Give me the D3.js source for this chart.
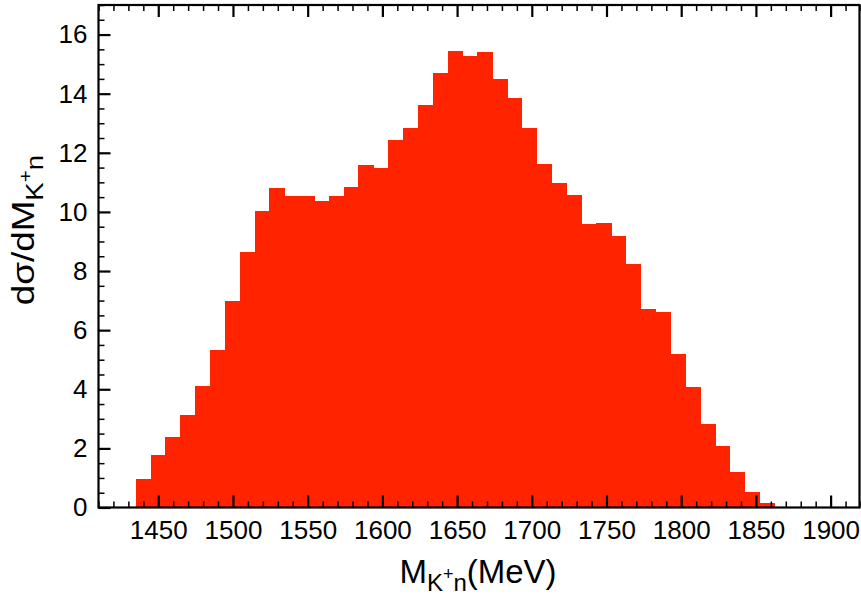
<!DOCTYPE html>
<html>
<head>
<meta charset="utf-8">
<script src="https://cdn.jsdelivr.net/npm/d3@7"></script>
<style>
    body { margin: 0; background: #fff; }
    svg { display: block; font-family: "Liberation Sans", Arial, Helvetica, sans-serif; }
    .plotAxis path { display: none; }
    .plotAxis line { stroke: #000; }
    .plotAxis text { fill: #000; }
</style>
</head>
<body>
<svg id="histPlot" width="861" height="596"></svg>
<script>
"use strict";

const width = 861;
const height = 596;
const plotBox = { "left": 98.5, "right": 860.5, "top": 5, "bottom": 507.5 };

// histogram: lower edge of first bin and bin width (MeV), heights per bin
const binStart = 1434.9;
const binWidth = 9.94;
const binHeights = [
    0.96, 1.76, 2.38, 3.14, 4.10, 5.34, 6.98, 8.66, 10.03, 10.82,
    10.54, 10.54, 10.38, 10.55, 10.85, 11.59, 11.47, 12.42, 12.85, 13.62,
    14.70, 15.46, 15.29, 15.42, 14.49, 13.85, 12.85, 11.61, 10.98, 10.56,
    9.58, 9.62, 9.20, 8.25, 6.72, 6.60, 5.19, 4.08, 2.81, 2.08,
    1.19, 0.52, 0.14
];

const xDomain = [1410, 1920];
const yDomain = [0, 17];
const xMajorTicks = [1450, 1500, 1550, 1600, 1650, 1700, 1750, 1800, 1850, 1900];
const yMajorTicks = [0, 2, 4, 6, 8, 10, 12, 14, 16];
const xMinorStep = 10;
const yMinorStep = 0.5;

const barColor = "#ff2300";

let xScale = d3.scaleLinear().domain(xDomain).range([plotBox.left, plotBox.right]);
let yScale = d3.scaleLinear().domain(yDomain).range([plotBox.bottom, plotBox.top]);

let svg = d3.select("svg#histPlot");

// bars
svg.append("g")
    .attr("id", "bars")
    .attr("shape-rendering", "crispEdges")
    .selectAll("rect")
    .data(binHeights)
    .enter()
    .append("rect")
    .attr("x", (d, i) => xScale(binStart + i * binWidth))
    .attr("width", (d, i) => xScale(binStart + (i + 1) * binWidth) - xScale(binStart + i * binWidth) + 0.6)
    .attr("y", d => yScale(d))
    .attr("height", d => yScale(0) - yScale(d))
    .attr("fill", barColor);

// minor tick values
let xMinor = d3.range(xDomain[0], xDomain[1] + 0.01, xMinorStep).filter(v => v % 50 !== 0);
let yMinor = d3.range(yDomain[0], yDomain[1] + 0.01, yMinorStep).filter(v => v % 2 !== 0);

function drawAxes() {
    // bottom
    let bottomMajor = svg.append("g")
        .attr("class", "plotAxis")
        .attr("transform", `translate(0,${plotBox.bottom})`)
        .call(d3.axisBottom(xScale).tickValues(xMajorTicks).tickSize(-12).tickPadding(13).tickFormat(d3.format("d")));
    bottomMajor.selectAll("line").attr("stroke-width", 2.2);
    bottomMajor.selectAll("text").attr("font-size", 26).attr("font-family", "inherit");

    svg.append("g")
        .attr("class", "plotAxis")
        .attr("transform", `translate(0,${plotBox.bottom})`)
        .call(d3.axisBottom(xScale).tickValues(xMinor).tickSize(-6).tickFormat(""))
        .selectAll("line").attr("stroke-width", 1.5);

    // top
    svg.append("g")
        .attr("class", "plotAxis")
        .attr("transform", `translate(0,${plotBox.top})`)
        .call(d3.axisTop(xScale).tickValues(xMajorTicks).tickSize(-12).tickFormat(""))
        .selectAll("line").attr("stroke-width", 2.2);
    svg.append("g")
        .attr("class", "plotAxis")
        .attr("transform", `translate(0,${plotBox.top})`)
        .call(d3.axisTop(xScale).tickValues(xMinor).tickSize(-6).tickFormat(""))
        .selectAll("line").attr("stroke-width", 1.5);

    // left
    let leftMajor = svg.append("g")
        .attr("class", "plotAxis")
        .attr("transform", `translate(${plotBox.left},0)`)
        .call(d3.axisLeft(yScale).tickValues(yMajorTicks).tickSize(-12).tickPadding(11).tickFormat(d3.format("d")));
    leftMajor.selectAll("line").attr("stroke-width", 2.2);
    leftMajor.selectAll("text").attr("font-size", 26).attr("font-family", "inherit");

    svg.append("g")
        .attr("class", "plotAxis")
        .attr("transform", `translate(${plotBox.left},0)`)
        .call(d3.axisLeft(yScale).tickValues(yMinor).tickSize(-6).tickFormat(""))
        .selectAll("line").attr("stroke-width", 1.5);

    // frame
    svg.append("rect")
        .attr("x", plotBox.left)
        .attr("y", plotBox.top)
        .attr("width", plotBox.right - plotBox.left - 1)
        .attr("height", plotBox.bottom - plotBox.top)
        .attr("fill", "none")
        .attr("stroke", "#000")
        .attr("stroke-width", 2.2);
}

function drawLabels() {
    let xLabel = svg.append("text")
        .attr("x", 478)
        .attr("y", 583)
        .attr("text-anchor", "middle")
        .attr("font-size", 33);
    xLabel.append("tspan").text("M");
    xLabel.append("tspan").attr("font-size", 24).attr("dy", 8).text("K");
    xLabel.append("tspan").attr("font-size", 18).attr("dy", -11).text("+");
    xLabel.append("tspan").attr("font-size", 24).attr("dy", 11).text("n");
    xLabel.append("tspan").attr("dy", -8).text("(MeV)");

    let yLabel = svg.append("text")
        .attr("transform", "translate(34,230) rotate(-90) scale(1.15,1)")
        .attr("text-anchor", "middle")
        .attr("font-size", 32);
    yLabel.append("tspan").text("d\u03c3/dM");
    yLabel.append("tspan").attr("font-size", 24).attr("dy", 9).text("K");
    yLabel.append("tspan").attr("font-size", 18).attr("dy", -11).text("+");
    yLabel.append("tspan").attr("font-size", 24).attr("dy", 11).text("n");
}

drawAxes();
drawLabels();
</script>
</body>
</html>
